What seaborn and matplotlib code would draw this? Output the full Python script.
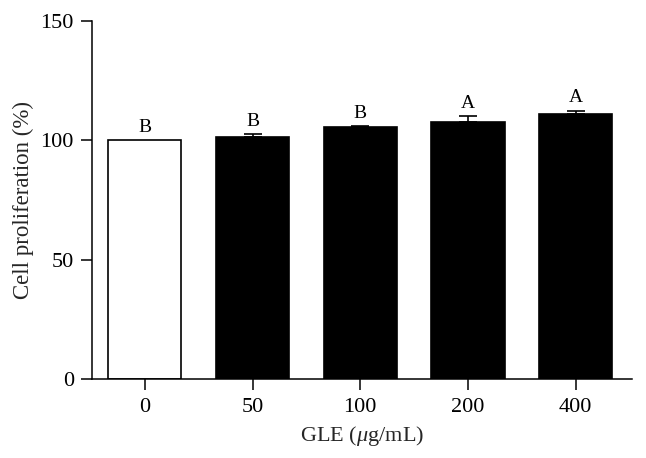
import matplotlib
matplotlib.use("Agg")
import matplotlib.pyplot as plt
import seaborn as sns
import pandas as pd

categories = ["0", "50", "100", "200", "400"]
means = [100.0, 101.5, 105.6, 107.8, 110.9]
errors = [0.0, 1.0, 0.4, 2.5, 1.5]
letters = ["B", "B", "B", "A", "A"]
bar_colors = ["white", "black", "black", "black", "black"]
yticks = [0, 50, 100, 150]

sns.set_theme(style="ticks")
plt.rcParams["font.family"] = ["Liberation Serif", "DejaVu Serif"]
plt.rcParams["mathtext.fontset"] = "custom"
plt.rcParams["mathtext.rm"] = "Liberation Serif"
plt.rcParams["mathtext.it"] = "Liberation Serif:italic"

df = pd.DataFrame({"dose": categories, "value": means})

fig = plt.figure(figsize=(6.46, 4.58), dpi=100)
ax = fig.add_axes([0.1424, 0.1725, 0.978 - 0.1424, 0.954 - 0.1725])

sns.barplot(data=df, x="dose", y="value", hue="dose", palette=bar_colors,
            order=categories, hue_order=categories, legend=False,
            errorbar=None, width=0.68, edgecolor="black", linewidth=1.2,
            dodge=False, ax=ax)

xs = list(range(len(categories)))
ax.errorbar(xs[1:], means[1:], yerr=[[0] * (len(xs) - 1), errors[1:]],
            fmt="none", ecolor="black", elinewidth=1.2, capsize=6.8,
            capthick=1.2)

for x, m, e, t in zip(xs, means, errors, letters):
    ax.text(x, m + e + 1.8, t, ha="center", va="bottom", fontsize=14,
            color="black")

ax.set_xlim(-0.49, 4.52)
ax.set_ylim(0, 150)
ax.set_yticks(yticks)
ax.set_yticklabels([str(v) for v in yticks])
ax.set_xlabel(r"GLE ($\mathit{\mu}$g/mL)", fontsize=16, labelpad=5)
ax.set_ylabel("Cell proliferation (%)", fontsize=16.5, labelpad=5)
ax.tick_params(axis="x", pad=6)
ax.tick_params(axis="y", pad=5)
ax.tick_params(axis="both", labelsize=16, length=8, width=1.1,
               direction="out", color="black", labelcolor="black")
for s in ["top", "right"]:
    ax.spines[s].set_visible(False)
for s in ["left", "bottom"]:
    ax.spines[s].set_linewidth(1.1)
    ax.spines[s].set_color("black")
ax.set_facecolor("white")
fig.patch.set_facecolor("white")

fig.savefig("out.png", dpi=100, facecolor="white")
